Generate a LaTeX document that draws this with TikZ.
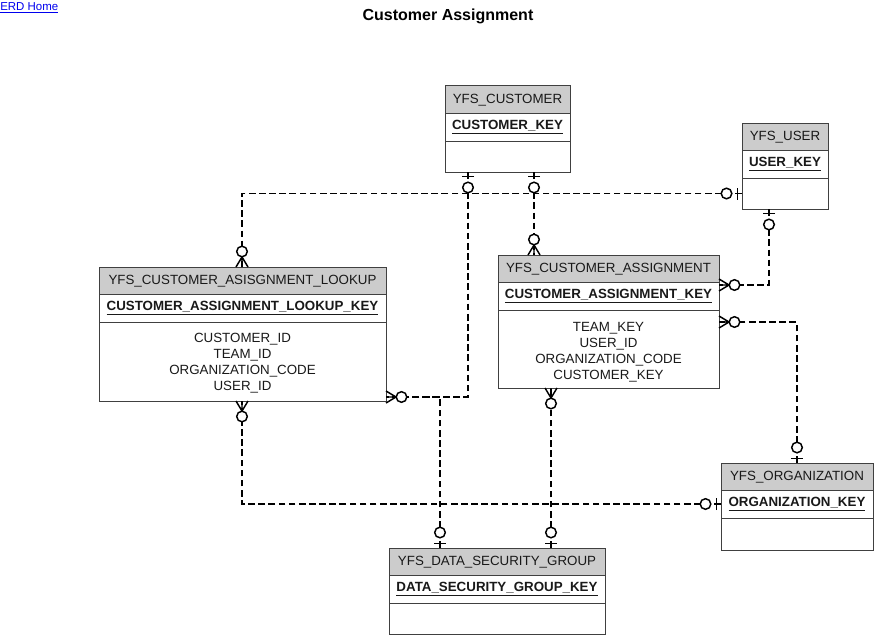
\documentclass[tikz,border=0pt]{standalone}
\usepackage{fontspec}
\setmainfont{Liberation Sans}
\definecolor{linkblue}{RGB}{0,0,238}
\newcommand\zo[2]{\begin{scope}[shift={(#1)},rotate=#2]\draw[mk] (4.5,-6)--(4.5,6); \draw[mk,fill=white] (15.5,0) circle (5.3);\end{scope}}
\newcommand\zm[2]{\begin{scope}[shift={(#1)},rotate=#2]\draw[mk] (0,-6)--(10,0)--(0,6) (0,0)--(10,0); \draw[mk,fill=white] (15.5,0) circle (5.3);\end{scope}}
\newcommand\ertbl[7]{%
  \node[hdr, minimum width=#4*0.75pt] (#1-h) at (#2,#3) {#5};
  \node[keyrow, minimum width=#4*0.75pt] (#1-k) at (#1-h.south west) {\underline{#6}};
  \node[bodyrow, minimum width=#4*0.75pt, minimum height=#7*0.75pt] (#1-b) at (#1-k.south west) {};
}
\begin{document}
\begin{tikzpicture}[x=0.75pt,y=-0.75pt,
  tblbox/.style={draw=black!75, line width=0.75pt, inner sep=0pt, outer sep=0pt, anchor=north west},
  hdr/.style={tblbox, fill=black!20, minimum height=27*0.75pt, text depth=0.5pt, font=\fontsize{10}{12}\selectfont, text=black!90},
  keyrow/.style={tblbox, fill=white, minimum height=28*0.75pt, font=\fontsize{10}{12}\selectfont\bfseries, text=black!90},
  bodyrow/.style={tblbox, fill=white},
  attrs/.style={inner sep=0pt, align=center, anchor=north, font=\fontsize{10}{12}\selectfont, text=black!90},
  rel/.style={draw=black, line width=1.1pt, dash pattern=on 5pt off 2.6pt},
  mk/.style={draw=black, line width=1.1pt, solid}]
\useasboundingbox (0,0) rectangle (874,635);
\node[anchor=north west, inner sep=0pt, text=linkblue, font=\fontsize{8.6}{10}\selectfont] (home) at (0,2.5) {\underline{ERD Home}};
\node[font=\fontsize{12}{14}\selectfont\bfseries] (title) at (448,16) {Customer Assignment};

\ertbl{cust}{445}{86}{125}{YFS\_CUSTOMER}{CUSTOMER\_KEY}{31}
\ertbl{user}{742}{123}{86}{YFS\_USER}{USER\_KEY}{31}
\ertbl{lk}{99}{267}{287}{YFS\_CUSTOMER\_ASISGNMENT\_LOOKUP}{CUSTOMER\_ASSIGNMENT\_LOOKUP\_KEY}{79}
\ertbl{as}{498}{255}{221}{YFS\_CUSTOMER\_ASSIGNMENT}{CUSTOMER\_ASSIGNMENT\_KEY}{78}
\ertbl{org}{721}{463}{152}{YFS\_ORGANIZATION}{ORGANIZATION\_KEY}{32}
\ertbl{dsg}{389}{548}{216}{YFS\_DATA\_SECURITY\_GROUP}{DATA\_SECURITY\_GROUP\_KEY}{31}

\node[attrs] (lk-t) at ([yshift=-8.3pt]lk-b.north) {CUSTOMER\_ID\\TEAM\_ID\\ORGANIZATION\_CODE\\USER\_ID};
\node[attrs] (as-t) at ([yshift=-9pt]as-b.north) {TEAM\_KEY\\USER\_ID\\ORGANIZATION\_CODE\\CUSTOMER\_KEY};

% connector end points
\coordinate (c1) at ([xshift=23*0.75pt]cust-b.south west);
\coordinate (c2) at ([xshift=89*0.75pt]cust-b.south west);
\coordinate (ul) at (user-b.west);
\coordinate (ub) at ([xshift=27*0.75pt]user-b.south west);
\coordinate (lr) at ([yshift=4*0.75pt]lk-b.south east);
\coordinate (lt) at ([xshift=143*0.75pt]lk-h.north west);
\coordinate (lb) at ([xshift=143*0.75pt]lk-b.south west);
\coordinate (at) at ([xshift=36*0.75pt]as-h.north west);
\coordinate (ar1) at ([yshift=-3*0.75pt]as-k.north east);
\coordinate (ar2) at ([yshift=-12*0.75pt]as-b.north east);
\coordinate (ab) at ([xshift=53*0.75pt]as-b.south west);
\coordinate (ot) at ([xshift=76*0.75pt]org-h.north west);
\coordinate (ol) at (org-k.west);
\coordinate (d1) at ([xshift=51*0.75pt]dsg-h.north west);
\coordinate (d2) at ([xshift=162*0.75pt]dsg-h.north west);

% connectors
\draw[rel] (c1) -- (c1 |- lr) -- (lr);
\draw[rel] (c2) -- (at);
\draw[rel] (ul) -- (lt |- ul) -- (lt);
\draw[rel] (ub) -- (ub |- ar1) -- (ar1);
\draw[rel] (ot) -- (ot |- ar2) -- (ar2);
\draw[rel] (ol) -- (lb |- ol) -- (lb);
\draw[rel] (d1) -- (d1 |- lr) -- (lr);
\draw[rel] (d2) -- (ab);

% end markers
\zo{c1}{-90}
\zo{c2}{-90}
\zo{ul}{180}
\zo{ub}{-90}
\zo{ot}{90}
\zo{ol}{180}
\zo{d1}{90}
\zo{d2}{90}
\zm{lr}{0}
\zm{at}{90}
\zm{lt}{90}
\zm{ar1}{0}
\zm{ar2}{0}
\zm{lb}{-90}
\zm{ab}{-90}
\end{tikzpicture}
\end{document}
